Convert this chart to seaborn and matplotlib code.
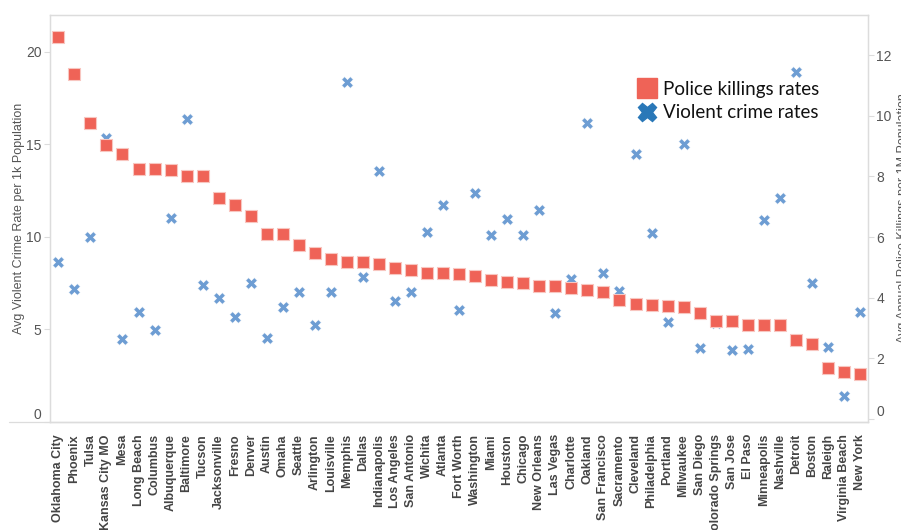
import numpy as np
import pandas as pd
import matplotlib
matplotlib.use("Agg")
import matplotlib.pyplot as plt
from matplotlib.lines import Line2D
import seaborn as sns

cities = ["Oklahoma City", "Phoenix", "Tulsa", "Kansas City MO", "Mesa", "Long Beach",
          "Columbus", "Albuquerque", "Baltimore", "Tucson", "Jacksonville", "Fresno",
          "Denver", "Austin", "Omaha", "Seattle", "Arlington", "Louisville", "Memphis",
          "Dallas", "Indianapolis", "Los Angeles", "San Antonio", "Wichita", "Atlanta",
          "Fort Worth", "Washington", "Miami", "Houston", "Chicago", "New Orleans",
          "Las Vegas", "Charlotte", "Oakland", "San Francisco", "Sacramento", "Cleveland",
          "Philadelphia", "Portland", "Milwaukee", "San Diego", "Colorado Springs",
          "San Jose", "El Paso", "Minneapolis", "Nashville", "Detroit", "Boston",
          "Raleigh", "Virginia Beach", "New York"]

police_killings = [12.62, 11.39, 9.76, 9.05, 8.74, 8.26, 8.26, 8.23, 8.03, 8.00, 7.29, 7.07,
                   6.69, 6.10, 6.10, 5.75, 5.49, 5.29, 5.18, 5.18, 5.10, 4.98, 4.90, 4.80,
                   4.80, 4.77, 4.73, 4.60, 4.52, 4.48, 4.37, 4.37, 4.32, 4.27, 4.18, 3.93,
                   3.79, 3.75, 3.72, 3.70, 3.50, 3.22, 3.22, 3.09, 3.09, 3.09, 2.60, 2.47,
                   1.67, 1.54, 1.48]

violent_crime = [8.62, 7.20, 9.99, 15.34, 4.46, 5.92, 4.96, 11.00, 16.38, 7.38, 6.69, 5.66,
                 7.50, 4.51, 6.19, 7.00, 5.23, 7.00, 18.37, 7.85, 13.57, 6.55, 7.00, 10.25,
                 11.71, 6.04, 12.38, 10.07, 10.95, 10.07, 11.47, 5.86, 7.72, 16.18, 8.03,
                 7.07, 14.47, 10.19, 5.38, 15.03, 3.97, 5.36, 3.86, 3.91, 10.90, 12.09,
                 18.89, 7.52, 4.06, 1.39, 5.92]

left_ticks = [0, 5, 10, 15, 20]
right_ticks = [0, 2, 4, 6, 8, 10, 12]
legend_labels = ["Police killings rates", "Violent crime rates"]

df = pd.DataFrame({"city": cities, "police": police_killings, "crime": violent_crime})
df["pos"] = np.arange(len(df))

sns.set_style("white")
plt.rcParams["font.family"] = ["Liberation Sans", "DejaVu Sans"]

RED = "#ef6357"
BLUE = "#6d9dd3"
AXC = "#dcdcdc"
TXT = "#555555"

fig = plt.figure(figsize=(9.01, 5.30), dpi=100)
ax = fig.add_axes([50 / 901, 1 - 421.6 / 530, 818 / 901, (421.6 - 15) / 530])
ax2 = ax.twinx()

sns.scatterplot(data=df, x="pos", y="crime", ax=ax, marker="X", s=70, color=BLUE,
                edgecolor="white", linewidth=0.4, zorder=3, legend=False)
sns.scatterplot(data=df, x="pos", y="police", ax=ax2, marker="s", s=85, color=RED,
                edgecolor="#f8c6c0", linewidth=0.8, zorder=3, legend=False)

ax.set_xlim(-0.52, len(df) - 0.5)
ax.set_ylim(0, 22.0)
ax2.set_ylim(-0.09, 13.33)

ax.set_xticks(df["pos"])
ax.set_xticklabels(df["city"], rotation=90, fontsize=9, fontweight="bold", color="#444444")
ax.set_xticks(np.arange(len(df) + 1) - 0.5, minor=True)
ax.tick_params(axis="x", which="major", length=0, pad=9)
ax.tick_params(axis="x", which="minor", length=5, width=0.8, color=AXC, direction="out")
ax.set_xlabel("")

ax.set_yticks(left_ticks)
ax.set_yticklabels([str(t) for t in left_ticks])
ax.tick_params(axis="y", which="major", length=4, width=0.8, color=AXC, labelsize=10,
               labelcolor=TXT, pad=2, left=True)
ax2.set_yticks(right_ticks)
ax2.set_yticklabels([str(t) for t in right_ticks])
ax2.tick_params(axis="y", which="major", length=4, width=0.8, color=AXC, labelsize=10,
                labelcolor=TXT, pad=2, right=True)
ax.get_yticklabels()[0].set_va("bottom")
ax2.get_yticklabels()[0].set_va("bottom")

ax.set_ylabel("Avg Violent Crime Rate per 1k Population", fontsize=9, color=TXT)
ax.yaxis.set_label_coords(-0.031, 0.5)
ax2.set_ylabel("Avg Annual Police Killings per 1M Population", fontsize=9, color=TXT)
ax2.yaxis.set_label_coords(1.036, 0.5)

for a in (ax, ax2):
    for side in ("left", "right", "top", "bottom"):
        a.spines[side].set_color(AXC)
        a.spines[side].set_linewidth(0.9)
ax.plot([-0.05, 1.0], [0, 0], transform=ax.transAxes, color=AXC, lw=0.9, clip_on=False)

handles = [
    Line2D([0], [0], marker="s", linestyle="none", markersize=15, color=RED),
    Line2D([0], [0], marker="X", linestyle="none", markersize=13, color="#2a78b8"),
]
leg = ax2.legend(handles, legend_labels, loc="upper left",
                 bbox_to_anchor=(621 / 901, 1 - 64 / 530), bbox_transform=fig.transFigure,
                 frameon=False, handlelength=1.0, handletextpad=0.35, labelspacing=0.35,
                 prop={"family": "Lato", "size": 13.5})
for t in leg.get_texts():
    t.set_color("#111111")

fig.savefig("out.png", dpi=100)
